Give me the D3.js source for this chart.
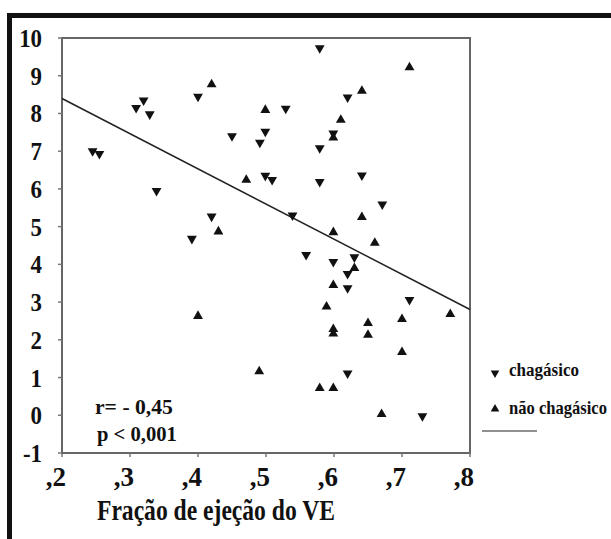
<!DOCTYPE html>
<html>
<head>
<meta charset="utf-8">
<script src="https://cdn.jsdelivr.net/npm/d3@7"></script>
<style>
  body { margin: 0; background: #fff; }
  svg text { font-family: "Liberation Serif", "DejaVu Serif", serif; font-weight: bold; fill: #111; }
</style>
</head>
<body>
<svg id="chart" width="611" height="539"></svg>
<script>
// chagásico (down triangles)
var chagX = [0.245, 0.255, 0.309, 0.320, 0.329, 0.339, 0.400, 0.391, 0.420, 0.450, 0.491, 0.499, 0.499, 0.509, 0.529, 0.539,
             0.559, 0.579, 0.579, 0.579, 0.599, 0.599, 0.620, 0.620, 0.620, 0.620, 0.630, 0.641, 0.671, 0.711, 0.730];
var chagY = [7.00, 6.93, 8.15, 8.35, 7.98, 5.95, 8.45, 4.68, 5.27, 7.40, 7.23, 7.52, 6.35, 6.24, 8.13, 5.30,
             4.25, 9.73, 7.08, 6.19, 7.47, 4.07, 8.43, 3.75, 3.37, 1.11, 4.19, 6.36, 5.59, 3.06, -0.02];
// não chagásico (up triangles)
var naoX = [0.400, 0.420, 0.430, 0.471, 0.490, 0.499, 0.579, 0.589, 0.599, 0.599, 0.599, 0.599, 0.599, 0.599,
            0.610, 0.630, 0.641, 0.641, 0.650, 0.650, 0.660, 0.670, 0.700, 0.700, 0.711, 0.771];
var naoY = [2.63, 8.77, 4.87, 6.24, 1.16, 8.09, 0.72, 2.88, 7.36, 4.85, 3.45, 2.28, 2.16, 0.72,
            7.83, 3.90, 8.60, 5.25, 2.44, 2.13, 4.57, 0.03, 2.55, 1.67, 9.22, 2.68];

var xTicks = [0.2, 0.3, 0.4, 0.5, 0.6, 0.7, 0.8];
var xTickLabels = [",2", ",3", ",4", ",5", ",6", ",7", ",8"];
var yTicks = [-1, 0, 1, 2, 3, 4, 5, 6, 7, 8, 9, 10];

// fitted line: y = a + b*x
var fitA = 10.26, fitB = -9.32;
var statR = "r= - 0,45", statP = "p < 0,001";
var legendLabels = ["chagásico", "não chagásico"];
var xTitle = "Fração de ejeção do VE";

var svg = d3.select("#chart");
var x = d3.scaleLinear().domain([0.2, 0.8]).range([62, 470]);
var y = d3.scaleLinear().domain([-1, 10]).range([453, 38]);

// squeeze a text horizontally to a target width (condensed look)
var fitText = function(px, py, size, width, str){
  var g = svg.append("g").attr("transform", "translate(" + px + "," + py + ")");
  var t = g.append("text").attr("font-size", size).text(str);
  var w = t.node().getComputedTextLength();
  t.attr("transform", "scale(" + (width / w) + ",1)");
  return t;
}

// outer frame (thick black bars top and left)
svg.append("rect").attr("x", 7).attr("y", 13).attr("width", 604).attr("height", 5).attr("fill", "#111");
svg.append("rect").attr("x", 7).attr("y", 13).attr("width", 5).attr("height", 526).attr("fill", "#111");

// plot box
svg.append("rect")
  .attr("x", x(0.2)).attr("y", y(10))
  .attr("width", x(0.8) - x(0.2)).attr("height", y(-1) - y(10))
  .attr("fill", "none").attr("stroke", "#666").attr("stroke-width", 2);

// y ticks
var yAxis = svg.append("g");
yAxis.selectAll("line").data(yTicks).enter().append("line")
  .attr("x1", x(0.2) - 4).attr("x2", x(0.2))
  .attr("y1", function(d){ return y(d); }).attr("y2", function(d){ return y(d); })
  .attr("stroke", "#777").attr("stroke-width", 1.5);
yAxis.selectAll("text").data(yTicks).enter().append("text")
  .attr("x", 42).attr("y", function(d){ return y(d) + 9; })
  .attr("text-anchor", "end").attr("font-size", 26)
  .attr("transform", function(d){ return "translate(" + (42 * 0.12) + ",0) scale(0.88,1)"; })
  .text(function(d){ return d; });

// x ticks
var xAxis = svg.append("g");
xAxis.selectAll("line").data(xTicks).enter().append("line")
  .attr("x1", function(d){ return x(d); }).attr("x2", function(d){ return x(d); })
  .attr("y1", y(-1)).attr("y2", y(-1) + 4)
  .attr("stroke", "#777").attr("stroke-width", 1.5);
xAxis.selectAll("text").data(xTicks).enter().append("text")
  .attr("x", function(d){ return x(d) + 4; }).attr("y", 486)
  .attr("text-anchor", "end").attr("font-size", 27)
  .text(function(d, i){ return xTickLabels[i]; });

fitText(97, 520, 29, 238, xTitle);

// regression line
svg.append("line")
  .attr("x1", x(0.2)).attr("y1", y(fitA + fitB * 0.2))
  .attr("x2", x(0.8)).attr("y2", y(fitA + fitB * 0.8))
  .attr("stroke", "#222").attr("stroke-width", 1.5);

var tri = d3.symbol().type(d3.symbolTriangle).size(42);

var chagData = chagX.map(function(v, i){ return {x: v, y: chagY[i]}; });
var naoData = naoX.map(function(v, i){ return {x: v, y: naoY[i]}; });

svg.append("g").selectAll("path").data(chagData).enter().append("path")
  .attr("d", tri)
  .attr("transform", function(d){ return "translate(" + x(d.x) + "," + y(d.y) + ") rotate(180)"; })
  .attr("fill", "#111");

svg.append("g").selectAll("path").data(naoData).enter().append("path")
  .attr("d", tri)
  .attr("transform", function(d){ return "translate(" + x(d.x) + "," + y(d.y) + ")"; })
  .attr("fill", "#111");

// stats
fitText(95, 414, 21, 78, statR);
fitText(97, 441, 21, 80, statP);

// legend
svg.append("path").attr("d", d3.symbol().type(d3.symbolTriangle).size(32))
  .attr("transform", "translate(495,373) rotate(180)").attr("fill", "#111");
svg.append("path").attr("d", d3.symbol().type(d3.symbolTriangle).size(32))
  .attr("transform", "translate(495,409)").attr("fill", "#111");
fitText(509, 376, 19, 70, legendLabels[0]);
fitText(509, 414, 19, 98, legendLabels[1]);
svg.append("line").attr("x1", 482).attr("x2", 537).attr("y1", 431).attr("y2", 431)
  .attr("stroke", "#222").attr("stroke-width", 1.2);
</script>
</body>
</html>
